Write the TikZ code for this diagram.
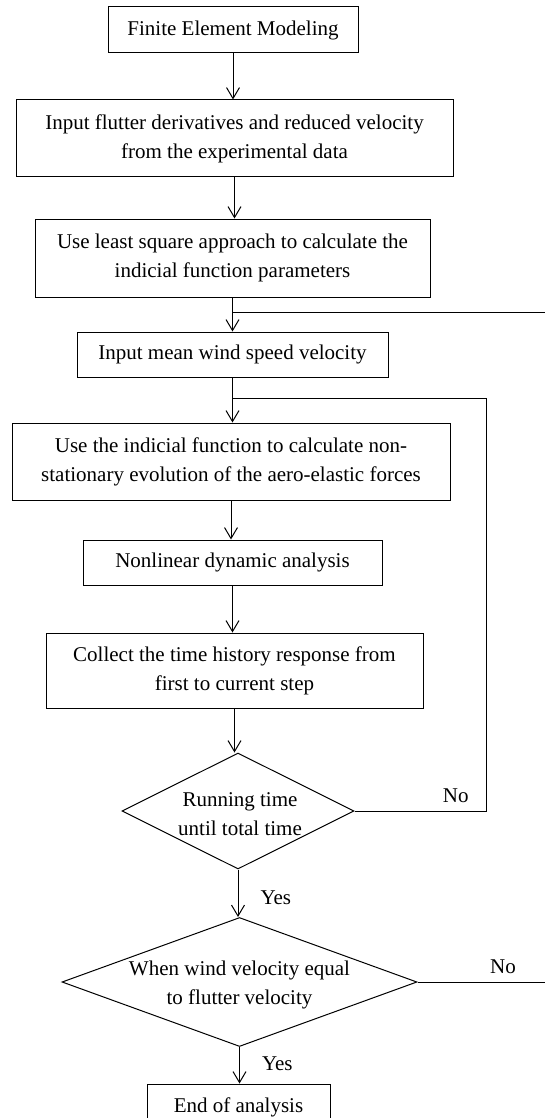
\documentclass[tikz,border=0pt]{standalone}
\usepackage{fontspec}
\setmainfont{Liberation Serif}
\usetikzlibrary{arrows.meta, positioning, shapes.geometric}

\begin{document}
\begin{tikzpicture}[x=1pt, y=-1pt, >={Straight Barb[length=11pt, width=13pt]}, line width=1pt,
  box/.style={draw, rectangle, inner sep=0pt, align=center, font=\fontsize{21}{29}\selectfont},
  decision/.style={draw, diamond, inner sep=0pt},
  txt/.style={inner sep=0pt, align=center, font=\fontsize{21}{29}\selectfont},
  lbl/.style={inner sep=0pt, font=\fontsize{21}{24}\selectfont}]

\useasboundingbox (0,0) rectangle (545,1118);
\clip (0,0) rectangle (545,1118);

% Process boxes
\node[box, minimum width=250pt, minimum height=46pt] (fem) at (233,30) {Finite Element Modeling};
\node[box, minimum width=437pt, minimum height=77pt] (inp) at (234.5,138.5) {Input flutter derivatives and reduced velocity\\from the experimental data};
\node[box, minimum width=395pt, minimum height=78pt] (lsq) at (232.5,258) {Use least square approach to calculate the\\indicial function parameters};
\node[box, minimum width=311pt, minimum height=45pt] (wind) at (232.5,354.5) {Input mean wind speed velocity};
\node[box, minimum width=438pt, minimum height=77pt] (ind) at (231,461.5) {Use the indicial function to calculate non-\\stationary evolution of the aero-elastic forces};
\node[box, minimum width=299pt, minimum height=45pt] (nda) at (232.5,562.5) {Nonlinear dynamic analysis};
\node[box, minimum width=377pt, minimum height=75pt] (col) at (234.5,670.5) {Collect the time history response from\\first to current step};

% Decisions
\node[decision, minimum width=232pt, minimum height=116pt] (run) at (238,811) {};
\node[txt] (runt) at (240,814) {Running time\\until total time};
\node[decision, minimum width=355pt, minimum height=129pt] (flt) at (239.5,982) {};
\node[txt] (fltt) at (239.5,985) {When wind velocity equal\\to flutter velocity};

% End box (cut by the page edge)
\node[box, minimum width=183pt, minimum height=46pt] (fin) at (238.5,1107) {End of analysis};

% Main flow
\draw[->] (fem) -- (fem |- inp.north);
\draw[->] (inp) -- (inp |- lsq.north);
\draw[->] (lsq) -- (lsq |- wind.north);
\draw[->] (wind) -- (wind |- ind.north);
\draw[->] (ind) -- (ind |- nda.north);
\draw[->] (nda) -- (nda |- col.north);
\draw[->] (col) -- (col |- run.north);
\draw[->] (run) -- node[lbl, pos=0.6, right=22pt] (yes1) {Yes} (run |- flt.north);
\draw[->] (flt) -- node[lbl, pos=0.45, right=22pt] (yes2) {Yes} (flt |- fin.north);

% Feedback loops
\coordinate (back1) at (486,398);
\coordinate (edge1) at (560,312);
\coordinate (edge2) at (560,982);
\draw (run.east) -- node[lbl, pos=0.77, above=8pt] (no1) {No} (run.east -| back1) -- (back1) -- (back1 -| wind.south);
\draw (edge1) -- (edge1 -| lsq.south);
\draw (flt.east) -- node[lbl, pos=0.6, above=8pt] (no2) {No} (edge2);

\end{tikzpicture}
\end{document}
